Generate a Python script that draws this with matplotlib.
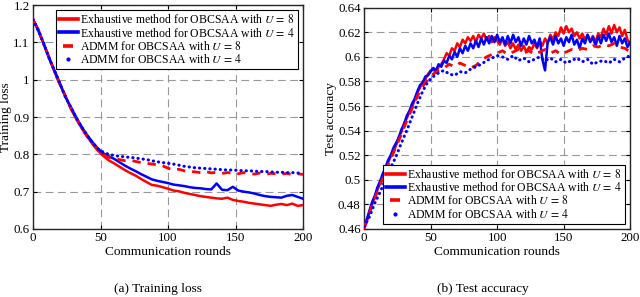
import numpy as np
import matplotlib
matplotlib.use('Agg')
import matplotlib.pyplot as plt
from matplotlib.lines import Line2D
from matplotlib.ticker import FormatStrFormatter

plt.rcParams['font.family'] = ['Liberation Serif', 'DejaVu Serif']
plt.rcParams['mathtext.fontset'] = 'stix'

# x axes (communication rounds)
rounds4 = np.arange(0, 201, 4)
rounds2 = np.arange(0, 201, 2)

labels = [r'Exhaustive method for OBCSAA with $U\,=\,8$',
          r'Exhaustive method for OBCSAA with $U\,=\,4$',
          r'ADMM for OBCSAA with $U\,=\,8$',
          r'ADMM for OBCSAA with $U\,=\,4$']

# (a) training loss, every 4 rounds
loss_exh8 = [1.160, 1.135, 1.093, 1.060, 1.020, 0.986, 0.957, 0.922, 0.895, 0.870,
             0.848, 0.828, 0.810, 0.796, 0.784, 0.776, 0.767, 0.758, 0.750, 0.743,
             0.734, 0.726, 0.718, 0.716, 0.712, 0.708, 0.703, 0.701, 0.697, 0.694,
             0.691, 0.688, 0.686, 0.684, 0.682, 0.681, 0.684, 0.678, 0.675, 0.673,
             0.670, 0.668, 0.666, 0.664, 0.662, 0.665, 0.667, 0.664, 0.668, 0.662,
             0.664]
loss_exh4 = [1.162, 1.130, 1.097, 1.056, 1.024, 0.990, 0.953, 0.927, 0.899, 0.874,
             0.852, 0.833, 0.816, 0.803, 0.795, 0.788, 0.779, 0.770, 0.762, 0.755,
             0.747, 0.740, 0.733, 0.729, 0.726, 0.723, 0.719, 0.717, 0.715, 0.712,
             0.710, 0.709, 0.707, 0.706, 0.722, 0.705, 0.704, 0.713, 0.703, 0.700,
             0.698, 0.695, 0.691, 0.688, 0.686, 0.685, 0.684, 0.689, 0.691, 0.686,
             0.681]
loss_admm8 = [1.160, 1.133, 1.094, 1.059, 1.021, 0.987, 0.956, 0.924, 0.896, 0.871,
              0.849, 0.829, 0.812, 0.800, 0.792, 0.789, 0.786, 0.783, 0.784, 0.781,
              0.778, 0.776, 0.774, 0.772, 0.769, 0.763, 0.758, 0.760, 0.756, 0.754,
              0.753, 0.751, 0.754, 0.750, 0.752, 0.749, 0.751, 0.750, 0.748, 0.751,
              0.749, 0.747, 0.750, 0.746, 0.749, 0.748, 0.747, 0.749, 0.746, 0.748,
              0.746]
loss_admm4 = [1.161, 1.131, 1.096, 1.057, 1.023, 0.989, 0.954, 0.926, 0.898, 0.873,
              0.851, 0.831, 0.815, 0.806, 0.800, 0.797, 0.795, 0.793, 0.792, 0.790,
              0.788, 0.786, 0.783, 0.780, 0.778, 0.776, 0.774, 0.771, 0.768, 0.766,
              0.764, 0.763, 0.762, 0.761, 0.760, 0.759, 0.758, 0.758, 0.757, 0.756,
              0.756, 0.755, 0.754, 0.754, 0.753, 0.752, 0.752, 0.751, 0.751, 0.750,
              0.749]

# (b) test accuracy, exhaustive every 2 rounds, ADMM every 4 rounds
acc_exh8 = [0.460, 0.466, 0.474, 0.480, 0.486, 0.492, 0.497, 0.503, 0.508, 0.514,
            0.519, 0.523, 0.528, 0.535, 0.539, 0.546, 0.550, 0.555, 0.559, 0.565,
            0.571, 0.575, 0.580, 0.582, 0.586, 0.589, 0.590, 0.587, 0.592, 0.594,
            0.598, 0.603, 0.601, 0.607, 0.605, 0.611, 0.608, 0.614, 0.611, 0.616,
            0.613, 0.617, 0.612, 0.618, 0.615, 0.619, 0.614, 0.617, 0.612, 0.616,
            0.613, 0.610, 0.615, 0.609, 0.612, 0.607, 0.611, 0.606, 0.610, 0.605,
            0.609, 0.604, 0.608, 0.606, 0.611, 0.607, 0.613, 0.609, 0.615, 0.611,
            0.618, 0.614, 0.620, 0.617, 0.624, 0.619, 0.625, 0.620, 0.623, 0.617,
            0.620, 0.615, 0.619, 0.614, 0.618, 0.613, 0.617, 0.612, 0.619, 0.616,
            0.623, 0.618, 0.625, 0.619, 0.626, 0.620, 0.624, 0.617, 0.622, 0.614,
            0.610]
acc_exh4 = [0.463, 0.468, 0.475, 0.482, 0.487, 0.494, 0.499, 0.505, 0.510, 0.516,
            0.520, 0.526, 0.530, 0.534, 0.541, 0.545, 0.552, 0.556, 0.562, 0.566,
            0.572, 0.577, 0.579, 0.584, 0.585, 0.588, 0.591, 0.589, 0.594, 0.592,
            0.597, 0.595, 0.601, 0.598, 0.604, 0.600, 0.607, 0.603, 0.609, 0.605,
            0.611, 0.607, 0.613, 0.608, 0.615, 0.610, 0.616, 0.611, 0.617, 0.612,
            0.618, 0.612, 0.616, 0.610, 0.617, 0.611, 0.618, 0.612, 0.616, 0.609,
            0.615, 0.610, 0.617, 0.611, 0.614, 0.608, 0.615, 0.598, 0.589, 0.612,
            0.616, 0.610, 0.617, 0.611, 0.615, 0.609, 0.616, 0.612, 0.618, 0.610,
            0.614, 0.607, 0.615, 0.611, 0.618, 0.612, 0.616, 0.609, 0.617, 0.611,
            0.618, 0.613, 0.619, 0.612, 0.616, 0.609, 0.617, 0.611, 0.615, 0.608,
            0.612]
acc_admm8 = [0.461, 0.473, 0.485, 0.496, 0.507, 0.517, 0.527, 0.537, 0.548, 0.558,
             0.568, 0.576, 0.582, 0.586, 0.589, 0.591, 0.594, 0.592, 0.595, 0.593,
             0.591, 0.593, 0.597, 0.600, 0.602, 0.603, 0.605, 0.602, 0.604, 0.606,
             0.603, 0.605, 0.602, 0.604, 0.606, 0.603, 0.605, 0.602, 0.604, 0.606,
             0.605, 0.607, 0.606, 0.609, 0.608, 0.610, 0.609, 0.611, 0.608, 0.607,
             0.604]
acc_admm4 = [0.462, 0.470, 0.481, 0.490, 0.500, 0.510, 0.519, 0.530, 0.540, 0.551,
             0.562, 0.572, 0.580, 0.584, 0.587, 0.589, 0.586, 0.585, 0.588, 0.587,
             0.590, 0.592, 0.594, 0.597, 0.599, 0.601, 0.600, 0.598, 0.601, 0.597,
             0.599, 0.596, 0.598, 0.600, 0.597, 0.599, 0.596, 0.598, 0.595, 0.597,
             0.599, 0.596, 0.598, 0.594, 0.596, 0.597, 0.595, 0.598, 0.596, 0.599,
             0.601]

fig = plt.figure(figsize=(6.4, 2.97), dpi=100)
ax1 = fig.add_axes([0.0516, 0.229, 0.4219, 0.754])
ax2 = fig.add_axes([0.569, 0.229, 0.4156, 0.745])

def draw(ax, x_exh, exh8, exh4, x_admm, admm8, admm4):
    ax.plot(x_exh, exh8, color='red', lw=1.8, zorder=3)
    ax.plot(x_exh, exh4, color='blue', lw=1.8, zorder=3)
    ax.plot(x_admm, admm8, color='red', lw=2, ls=(0, (3, 2.5)), zorder=4)
    ax.plot(x_admm, admm4, color='blue', lw=2.2, ls=(0, (0.1, 1.6)),
            dash_capstyle='round', zorder=4)
    ax.set_xlim(0, 200)
    ax.set_xticks([0, 50, 100, 150, 200])
    ax.grid(True, ls=(0, (7, 4)), color='#999999', lw=0.8)
    ax.tick_params(direction='in', top=True, right=True, labelsize=9.3,
                   length=3, width=0.8, pad=2.5)
    for s in ax.spines.values():
        s.set_linewidth(1.0)
        s.set_color('#262626')
    ax.set_xlabel('Communication rounds', fontsize=9.6, labelpad=1)
    ax.yaxis.set_major_formatter(FormatStrFormatter('%g'))

draw(ax1, rounds4, loss_exh8, loss_exh4, rounds4, loss_admm8, loss_admm4)
ax1.set_ylim(0.6, 1.2)
ax1.set_yticks(np.arange(0.6, 1.21, 0.1))
ax1.set_ylabel('Training loss', fontsize=9.6, labelpad=1)

draw(ax2, rounds2, acc_exh8, acc_exh4, rounds4, acc_admm8, acc_admm4)
ax2.set_ylim(0.46, 0.64)
ax2.set_yticks(np.arange(0.46, 0.641, 0.02))
ax2.set_ylabel('Test accuracy', fontsize=9.6, labelpad=1)

handles = [Line2D([], [], color='red', lw=2.6),
           Line2D([], [], color='blue', lw=2.6),
           Line2D([], [], color='red', ls='none', marker='_', markersize=7, mew=2.6),
           Line2D([], [], color='blue', ls='none', marker='.', markersize=4)]

for ax, loc in [(ax1, 'upper right'), (ax2, 'lower right')]:
    leg = ax.legend(handles, labels, loc=loc, fontsize=8.5, fancybox=False,
                    framealpha=1, edgecolor='black', handlelength=1.6,
                    handletextpad=0.2, labelspacing=0.02, borderpad=0.25,
                    borderaxespad=0.45)
    leg.get_frame().set_linewidth(0.8)
    leg.set_zorder(10)

fig.text(158 / 640, 1 - 289 / 297, '(a) Training loss', ha='center', va='center', fontsize=9.6)
fig.text(483 / 640, 1 - 289 / 297, '(b) Test accuracy', ha='center', va='center', fontsize=9.6)

fig.savefig('out.png', dpi=100)
